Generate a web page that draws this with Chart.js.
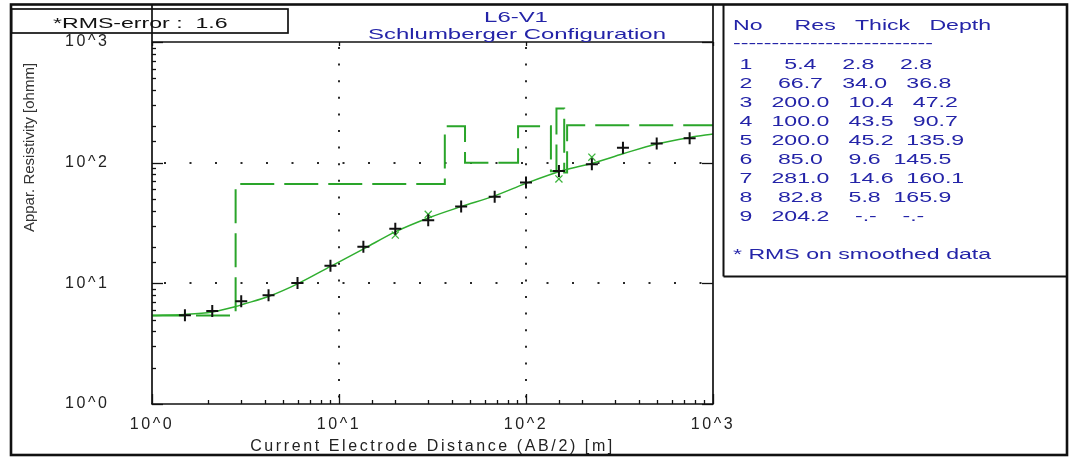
<!DOCTYPE html>
<html>
<head>
<meta charset="utf-8">
<title>L6-V1 Schlumberger sounding</title>
<script src="https://cdn.jsdelivr.net/npm/chart.js@4/dist/chart.umd.min.js"></script>
<style>
  html, body { margin: 0; padding: 0; background: #fff; }
  canvas { display: block; }
</style>
</head>
<body>
<canvas id="sounding" width="1073" height="459"></canvas>
<script>
// Sounding L6-V1: apparent resistivity against half current-electrode spacing AB/2

// smoothed field readings (black +)
const obsAB  = [1.5, 2.1, 3.0, 4.2, 6.0, 9.0, 13.5, 20, 30, 45, 68, 100, 150, 225, 330, 500, 750];
const obsRho = [5.43, 5.90, 7.12, 7.97, 10.05, 13.97, 20.1, 28.4, 33.3, 43.3, 52.3, 68.6, 85.5, 96.9, 132.7, 144, 159];

// raw readings that differ from the smoothed ones (green x)
const rawAB  = [20, 30, 150, 225];
const rawRho = [25.1, 37.3, 73.3, 111];

// calculated response of the layer model (solid green)
const calcAB  = [1.0, 1.5, 2.1, 2.8, 3.1, 4.3, 6.0, 9.0, 13.7, 20, 30.5, 45, 68, 100, 157, 227, 330, 500, 755, 1000];
const calcRho = [5.42, 5.52, 5.79, 6.42, 6.73, 7.90, 9.90, 13.8, 19.5, 26.7, 35.1, 43.2, 53.1, 67.3, 86.0, 99.0, 118.5, 143, 162, 173];

// interpreted layers
const layerNo    = [1, 2, 3, 4, 5, 6, 7, 8, 9];
const layerRes   = [5.4, 66.7, 200.0, 100.0, 200.0, 85.0, 281.0, 82.8, 204.2];
const layerThick = [2.8, 34.0, 10.4, 43.5, 45.2, 9.6, 14.6, 5.8, null];
const layerDepth = [2.8, 36.8, 47.2, 90.7, 135.9, 145.5, 160.1, 165.9, null];

// axis decades and their labels
const decadeValues = [1, 10, 100, 1000];
const decadeLabels = ['10^0', '10^1', '10^2', '10^3'];

const rmsError = 1.6;

const FONT = '"Liberation Sans", Arial, Helvetica, sans-serif';
const STRETCH = 1.65;          // wide lettering of the sheet annotations
const BLUE = '#2424a8';

const decadeIndex = v => decadeValues.findIndex(d => Math.abs(v / d - 1) < 1e-9);
const isInnerDecade = v => { const i = decadeIndex(v); return i > 0 && i < decadeValues.length - 1; };

// layer model as a step line: each resistivity holds down to the layer's base depth
const AXIS_MIN = 1, AXIS_MAX = 1000;
const modelPts = layerRes.map((r, i) => ({ x: i === 0 ? AXIS_MIN : layerDepth[i - 1], y: r }));
modelPts.push({ x: AXIS_MAX, y: layerRes[layerRes.length - 1] });

const fmt = v => (v === null ? '-.-' : v.toFixed(1));
const tableHeader = 'No     Res   Thick   Depth';
const tableRows = layerNo.map((n, i) =>
  ' ' + n + fmt(layerRes[i]).padStart(8) + fmt(layerThick[i]).padStart(7) + fmt(layerDepth[i]).padStart(7));

function wideText(ctx, str, x, y, size, color, align) {
  ctx.save();
  ctx.translate(x, y);
  ctx.scale(STRETCH, 1);
  ctx.font = size + 'px ' + FONT;
  ctx.fillStyle = color;
  ctx.textAlign = align || 'left';
  ctx.textBaseline = 'alphabetic';
  ctx.fillText(str, 0, 0);
  ctx.restore();
}

function seg(ctx, x1, y1, x2, y2, w) {
  ctx.lineWidth = w;
  ctx.beginPath();
  ctx.moveTo(x1, y1);
  ctx.lineTo(x2, y2);
  ctx.stroke();
}

const LETTER_SPACING = '2.6px';

const sheetPlugin = {
  id: 'sheet',
  beforeUpdate(chart) { chart.ctx.letterSpacing = LETTER_SPACING; },
  beforeDraw(chart) { chart.ctx.letterSpacing = LETTER_SPACING; },
  afterDraw(chart) {
    const { ctx, chartArea: a, scales: { x, y } } = chart;
    ctx.save();
    ctx.letterSpacing = '0px';
    ctx.strokeStyle = '#111';

    // sheet border
    ctx.lineWidth = 2.6;
    ctx.strokeRect(11, 4.5, 1056, 450.5);

    // plot frame; side lines run up to the sheet top
    seg(ctx, a.left, 4.5, a.left, a.bottom, 1.7);
    seg(ctx, a.right, 4.5, a.right, a.bottom, 1.7);
    seg(ctx, a.left, a.top, a.right, a.top, 1.6);
    seg(ctx, a.left - 0.8, a.bottom, a.right + 0.8, a.bottom, 1.6);

    // inward tick marks
    for (const t of y.ticks) {
      const py = Math.round(y.getPixelForValue(t.value)) + 0.5;
      const major = decadeIndex(t.value) >= 0;
      seg(ctx, a.left, py, a.left + (major ? 11 : 4), py, 1.3);
      if (major) seg(ctx, a.right, py, a.right - 11, py, 1.3);
    }
    for (const t of x.ticks) {
      const px = Math.round(x.getPixelForValue(t.value)) + 0.5;
      const major = decadeIndex(t.value) >= 0;
      seg(ctx, px, a.bottom, px, a.bottom - (major ? 10 : 4), 1.3);
      if (major) seg(ctx, px, a.top, px, a.top + 4, 1.3);
    }

    // RMS box
    ctx.lineWidth = 1.7;
    ctx.strokeRect(11.5, 9, 276.5, 24);
    wideText(ctx, '*RMS-error :  ' + rmsError.toFixed(1), 53, 28, 14, '#111');

    // title
    wideText(ctx, 'L6-V1', 516, 21.5, 14.5, BLUE, 'center');
    wideText(ctx, 'Schlumberger Configuration', 517, 38.5, 14.5, BLUE, 'center');

    // layer table
    seg(ctx, 723.5, 4.5, 723.5, 276.5, 2);
    seg(ctx, 723.5, 276.5, 1067, 276.5, 2);
    wideText(ctx, tableHeader, 733, 30, 14, BLUE);
    wideText(ctx, '-'.repeat(26), 733, 47.5, 14, BLUE);
    tableRows.forEach((row, i) => wideText(ctx, row, 733, 68.5 + i * 19, 14, BLUE));
    wideText(ctx, '* RMS on smoothed data', 733, 258.5, 14, BLUE);

    // y-axis title
    ctx.save();
    ctx.translate(30, 147.5);
    ctx.rotate(-Math.PI / 2);
    ctx.font = '15px ' + FONT;
    ctx.fillStyle = '#333';
    ctx.textAlign = 'center';
    ctx.textBaseline = 'middle';
    ctx.fillText('Appar. Resistivity [ohmm]', 0, 0);
    ctx.restore();

    ctx.restore();
  }
};

const tickFont = { family: FONT, size: 16 };
const decadeLabel = v => { const i = decadeIndex(v); return i >= 0 ? decadeLabels[i] : ''; };
const gridColor = c => (c.tick && isInnerDecade(c.tick.value)) ? '#2a2a2a' : 'rgba(0,0,0,0)';

const PLOT_LEFT = 152, PLOT_TOP = 42, PLOT_RIGHT = 713, PLOT_BOTTOM = 404, Y_LABEL_LEFT = 65;

new Chart(document.getElementById('sounding'), {
  type: 'scatter',
  data: {
    datasets: [
      {
        label: 'Smoothed data',
        data: obsAB.map((v, i) => ({ x: v, y: obsRho[i] })),
        pointStyle: 'cross', pointRadius: 6, pointBorderWidth: 2,
        borderColor: '#111', backgroundColor: '#111', showLine: false
      },
      {
        label: 'Field data',
        data: rawAB.map((v, i) => ({ x: v, y: rawRho[i] })),
        pointStyle: 'crossRot', pointRadius: 5, pointBorderWidth: 1.3,
        borderColor: '#3cb43c', backgroundColor: '#3cb43c', showLine: false
      },
      {
        label: 'Calculated',
        data: calcAB.map((v, i) => ({ x: v, y: calcRho[i] })),
        showLine: true, pointRadius: 0, borderWidth: 1.5,
        borderColor: '#2fae2f', cubicInterpolationMode: 'monotone'
      },
      {
        label: 'Layer model',
        data: modelPts,
        showLine: true, stepped: true, pointRadius: 0, borderWidth: 2,
        borderDash: [34, 10], borderColor: '#2aa52a'
      }
    ]
  },
  options: {
    responsive: false,
    animation: false,
    devicePixelRatio: 1,
    layout: { padding: { top: PLOT_TOP, right: 1073 - PLOT_RIGHT, left: Y_LABEL_LEFT, bottom: 0 } },
    plugins: { legend: { display: false }, tooltip: { enabled: false } },
    scales: {
      x: {
        type: 'logarithmic', min: AXIS_MIN, max: AXIS_MAX,
        afterFit(s) { s.height = 459 - PLOT_BOTTOM; },
        grid: { drawTicks: false, lineWidth: 2, color: gridColor },
        border: { display: false, dash: [2, 14.6], dashOffset: -5 },
        ticks: { autoSkip: false, maxRotation: 0, padding: 11, color: '#222', font: tickFont, callback: decadeLabel },
        title: {
          display: true, text: 'Current Electrode Distance (AB/2) [m]',
          color: '#222', font: tickFont, padding: { top: 0, bottom: 3 }
        }
      },
      y: {
        type: 'logarithmic', min: AXIS_MIN, max: AXIS_MAX,
        afterFit(s) { s.width = PLOT_LEFT - Y_LABEL_LEFT; },
        grid: { drawTicks: false, lineWidth: 2, color: gridColor },
        border: { display: false, dash: [2, 23.5], dashOffset: -12 },
        ticks: { autoSkip: false, padding: 0, crossAlign: 'far', color: '#222', font: tickFont, callback: decadeLabel }
      }
    }
  },
  plugins: [sheetPlugin]
});
</script>
</body>
</html>
